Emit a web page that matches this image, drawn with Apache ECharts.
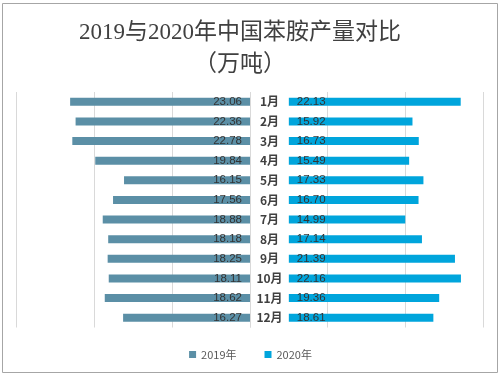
<!DOCTYPE html>
<html>
<head>
<meta charset="utf-8">
<script src="https://cdn.jsdelivr.net/npm/echarts@6/dist/echarts.min.js"></script>
<style>
  html, body { margin: 0; padding: 0; background: #fff; }
  #chart { width: 501px; height: 376px; }
</style>
</head>
<body>
<div id="chart"></div>
<script>
// months and output (万吨); May/June partly hidden by watermark
var months = ['1月', '2月', '3月', '4月', '5月', '6月', '7月', '8月', '9月', '10月', '11月', '12月'];
var output2019 = [23.06, 22.36, 22.78, 19.84, 16.15, 17.56, 18.88, 18.18, 18.25, 18.11, 18.62, 16.27];
var output2020 = [22.13, 15.92, 16.73, 15.49, 17.33, 16.70, 14.99, 17.14, 21.39, 22.16, 19.36, 18.61];
var seriesNames = ['2019年', '2020年'];

var myChart = echarts.init(document.getElementById('chart'));

function fmt(p) {
    return p.value.toFixed(2);
}

var option = {
    animation: false,
    color: ['#5b8fa6', '#00a5dc'],
    title: {
        text: '2019与2020年中国苯胺产量对比\n（万吨）',
        left: 235,
        top: 12,
        textAlign: 'center',
        textStyle: {
            color: '#404040',
            fontSize: 23,
            fontWeight: 'normal',
            lineHeight: 32,
            fontFamily: '"Liberation Serif", "Noto Sans CJK SC", serif'
        }
    },
    legend: {
        data: seriesNames,
        top: 344,
        left: 'center',
        icon: 'rect',
        itemWidth: 7,
        itemHeight: 7,
        itemGap: 28,
        textStyle: { color: '#595959', fontSize: 11, fontFamily: '"Noto Sans CJK SC", sans-serif' }
    },
    graphic: [{
        type: 'rect',
        shape: { x: 2.5, y: 3.5, width: 495, height: 369 },
        style: { fill: 'none', stroke: '#a6a6a6', lineWidth: 1 },
        silent: true
    }],
    grid: [
        { left: 16, width: 234, top: 92, height: 235.5 },
        { left: 250, width: 233, top: 92, height: 235.5 }
    ],
    xAxis: [
        {
            gridIndex: 0, type: 'value', inverse: true,
            min: 0, max: 30, interval: 10,
            axisLabel: { show: false }, axisLine: { show: false }, axisTick: { show: false },
            splitLine: { lineStyle: { color: '#d9d9d9' } }
        },
        {
            gridIndex: 1, type: 'value',
            min: -5, max: 25, interval: 10,
            axisLabel: { show: false }, axisLine: { show: false }, axisTick: { show: false },
            splitLine: { lineStyle: { color: '#d9d9d9' } }
        }
    ],
    yAxis: [
        {
            gridIndex: 0, type: 'category', data: months, inverse: true,
            position: 'right',
            axisLine: { show: false }, axisTick: { show: false },
            axisLabel: {
                align: 'center', margin: 19.5,
                color: '#404040', fontSize: 12, fontWeight: 'bold',
                fontFamily: '"Noto Sans CJK SC", sans-serif'
            }
        },
        {
            gridIndex: 1, type: 'category', data: months, inverse: true, show: false
        }
    ],
    series: [
        {
            name: seriesNames[0], type: 'bar',
            xAxisIndex: 0, yAxisIndex: 0,
            barWidth: 8,
            data: output2019,
            label: {
                show: true, position: 'insideRight', distance: 8,
                color: '#333333', fontSize: 11.5, formatter: fmt,
                fontFamily: '"Liberation Sans", sans-serif'
            }
        },
        {
            name: seriesNames[1], type: 'bar',
            xAxisIndex: 1, yAxisIndex: 1,
            barWidth: 8,
            data: output2020,
            label: {
                show: true, position: 'insideLeft', distance: 8,
                color: '#333333', fontSize: 11.5, formatter: fmt,
                fontFamily: '"Liberation Sans", sans-serif'
            }
        }
    ]
};

myChart.setOption(option);
</script>
</body>
</html>
